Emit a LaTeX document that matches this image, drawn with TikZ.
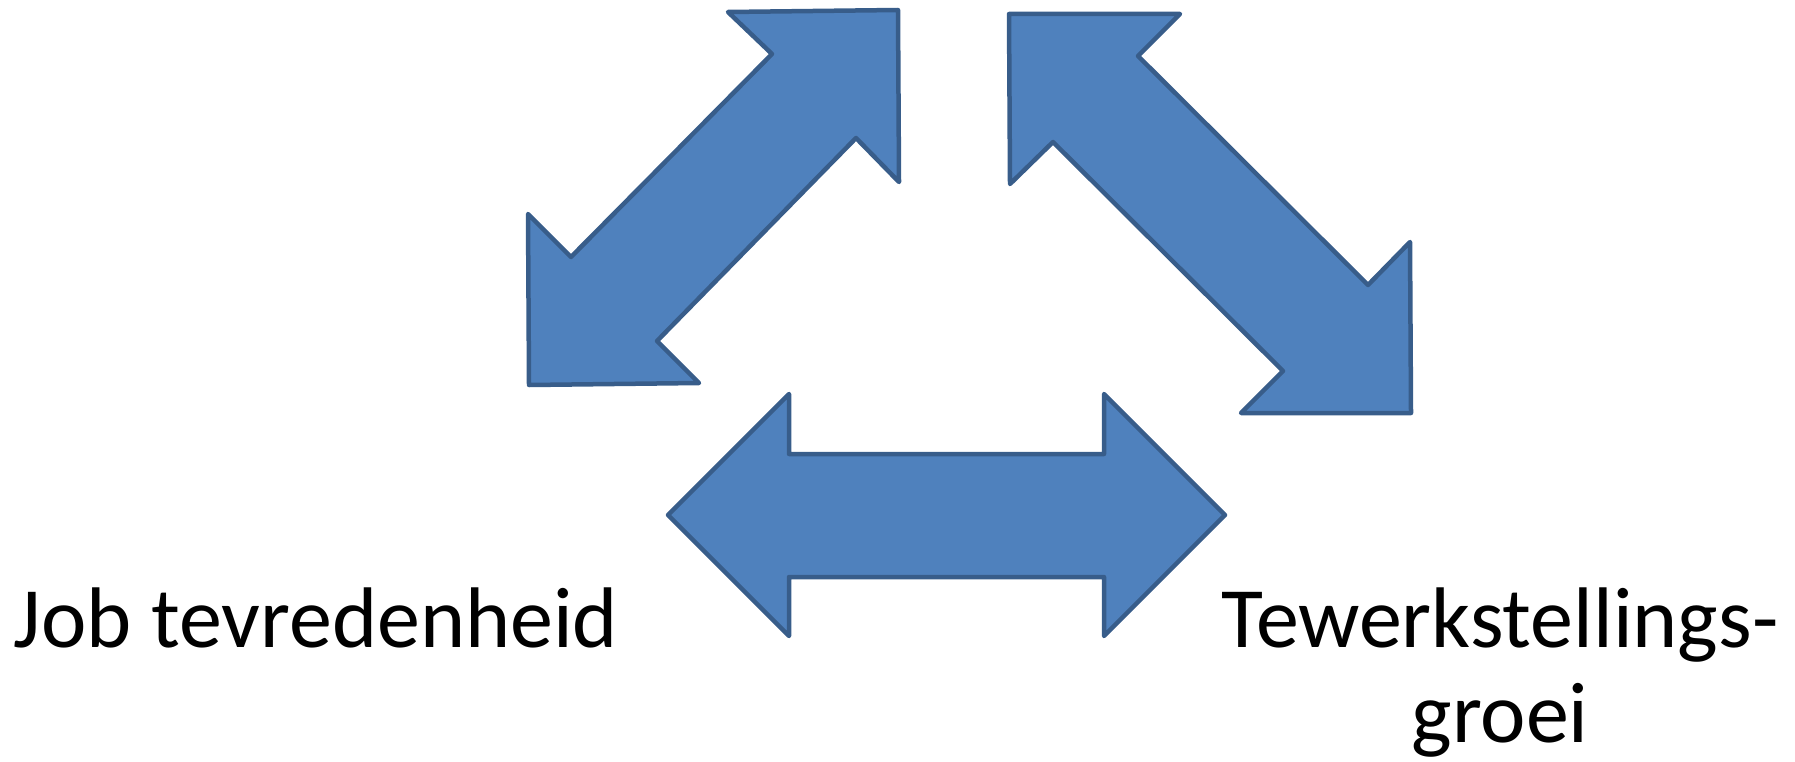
\documentclass[tikz,border=0pt]{standalone}
\usepackage{fontspec}
\setmainfont{Carlito}
\definecolor{arrowfill}{HTML}{4F81BD}
\definecolor{arrowline}{HTML}{385D8A}
\begin{document}
\begin{tikzpicture}[x=1pt,y=-1pt,
  bigarrow/.style={fill=arrowfill,draw=arrowline,line width=4.5pt,line join=round},
  label/.style={font=\fontsize{86}{95}\selectfont,align=center,inner sep=0pt,anchor=base}]
\useasboundingbox (0,0) rectangle (1795,762);
% upper-left double arrow (NE-SW)
\draw[bigarrow] (728,12) -- (898,10) -- (899,182) -- (856,138) -- (657,341) -- (699,383)
  -- (529,385) -- (528,214) -- (571,257) -- (772,54) -- cycle;
% upper-right double arrow (NW-SE)
\draw[bigarrow] (1009,14) -- (1180,14) -- (1138,56) -- (1368,285) -- (1410,242) -- (1411,413)
  -- (1241,413) -- (1283,371) -- (1053,142) -- (1010,184) -- cycle;
% bottom horizontal double arrow
\draw[bigarrow] (668,515) -- (789,394) -- (789,454) -- (1104,454) -- (1104,394) -- (1225,515)
  -- (1104,636) -- (1104,577) -- (789,577) -- (789,636) -- cycle;
\node[label] (job) at (316,647) {Job tevredenheid};
\node[label] (tew) at (1500,742) {Tewerkstellings-\\groei};
\end{tikzpicture}
\end{document}
